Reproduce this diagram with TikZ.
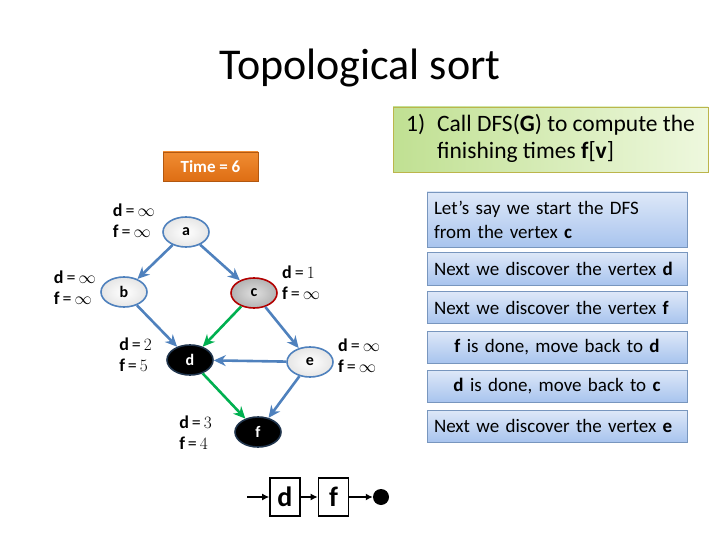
\documentclass[tikz,border=0pt]{standalone}
\usepackage{fontspec}
\setmainfont{Carlito}
\usetikzlibrary{shapes.geometric,arrows.meta,positioning}

\definecolor{edgeblue}{RGB}{79,129,189}
\definecolor{edgegreen}{RGB}{0,176,80}
\definecolor{boxtop}{RGB}{222,232,248}
\definecolor{boxbot}{RGB}{168,196,238}
\definecolor{boxline}{RGB}{120,150,190}
\definecolor{noteleft}{RGB}{192,224,146}
\definecolor{noteright}{RGB}{238,248,222}
\definecolor{timetop}{RGB}{240,140,50}
\definecolor{timebot}{RGB}{222,110,20}

\newcommand{\dval}[2]{\textbf{d}\,=\,$#1$\\\textbf{f}\,=\,$#2$}

\begin{document}
\begin{tikzpicture}[x=1pt,y=-1pt,
  vertex/.style={ellipse,line width=1.6pt,minimum width=46pt,minimum height=30pt,inner sep=0pt,
    font=\bfseries\fontsize{16}{16}\selectfont},
  white vertex/.style={vertex,draw=edgeblue,inner color=white,outer color=gray!20},
  gray vertex/.style={vertex,draw=red!70!black,inner color=gray!25,outer color=gray!60},
  black vertex/.style={vertex,draw=edgeblue!40!black,fill=black,text=white},
  dflabel/.style={align=left,font=\fontsize{18}{21}\selectfont,inner sep=0pt},
  blue edge/.style={draw=edgeblue,line width=2.6pt,-{Stealth[length=12pt,width=11pt]}},
  green edge/.style={draw=edgegreen,line width=2.6pt,-{Stealth[length=12pt,width=11pt]}},
  stepbox/.style={draw=boxline,line width=0.8pt,top color=boxtop,bottom color=boxbot,
    minimum width=260pt,text width=246pt,inner sep=7pt,font=\fontsize{19}{24}\selectfont},
  listbox/.style={draw,line width=1.6pt,minimum width=30pt,minimum height=38pt,inner sep=0pt,
    font=\bfseries\fontsize{28}{28}\selectfont},
  list edge/.style={line width=1.6pt,-{Latex[length=7pt,width=7pt]}}]
\useasboundingbox (0,0) rectangle (720,540);

% title
\node (title) at (360,68) {\fontsize{44}{44}\selectfont Topological sort};

% step 1
\node[draw=olive!60,line width=0.8pt,left color=noteleft,right color=noteright,
  minimum width=315pt,minimum height=65pt,inner sep=0pt,font=\fontsize{23.5}{27}\selectfont]
  (note) at (550.5,139.5)
  {\begin{tabular}{@{}l@{\hspace{12pt}}l@{}}
   1) & Call DFS(\textbf{G}) to compute the\\
      & finishing times \textbf{f}[\textbf{v}]
   \end{tabular}};

% time counter
\node[top color=timetop,bottom color=timebot,draw=timebot!80!black,line width=0.6pt,
  minimum width=95pt,minimum height=29pt,text=white,font=\bfseries\fontsize{17}{17}\selectfont]
  (time) at (210.5,166.5) {Time = 6};

% graph
\node[white vertex] (a) at (186,232) {a};
\node[white vertex] (b) at (124,292) {b};
\node[gray vertex]  (c) at (254,293) {c};
\node[black vertex] (d) at (190,360) {d};
\node[white vertex] (e) at (310,362) {e};
\node[black vertex] (f) at (258,432) {f};

\node[dflabel,anchor=east] (la) at (155,221) {\dval{\infty}{\infty}};
\node[dflabel,anchor=east] (lb) at (96,288)  {\dval{\infty}{\infty}};
\node[dflabel,anchor=west] (lc) at (282,283) {\dval{1}{\infty}};
\node[dflabel,anchor=east] (ld) at (152,355) {\dval{2}{5}};
\node[dflabel,anchor=west] (le) at (338,356) {\dval{\infty}{\infty}};
\node[dflabel,anchor=east] (lf) at (212,433) {\dval{3}{4}};

\draw[blue edge] (a) -- (b);
\draw[blue edge] (a) -- (c);
\draw[blue edge] (b) -- (d);
\draw[green edge] (c) -- (d);
\draw[blue edge] (c) -- (e);
\draw[blue edge] (e) -- (d);
\draw[blue edge] (e) -- (f);
\draw[green edge] (d) -- (f);

% steps
\node[stepbox,minimum height=55pt] (s1) at (557,219.5)
  {Let’s say we start the DFS\\from the vertex \textbf{c}};
\node[stepbox,minimum height=33pt] (s2) at (557,268.5) {Next we discover the vertex \textbf{d}};
\node[stepbox,minimum height=32pt] (s3) at (557,307.5) {Next we discover the vertex \textbf{f}};
\node[stepbox,minimum height=32pt,align=center] (s4) at (557,347) {\textbf{f} is done, move back to \textbf{d}};
\node[stepbox,minimum height=32pt,align=center] (s5) at (557,386) {\textbf{d} is done, move back to \textbf{c}};
\node[stepbox,minimum height=32pt] (s6) at (557,426) {Next we discover the vertex \textbf{e}};

% sorted list
\coordinate (head) at (247,497);
\node[listbox] (out d) at (285,497) {d};
\node[listbox] (out f) at (333.5,497) {f};
\node[circle,fill=black,minimum size=16pt,inner sep=0pt] (tail) at (381,497) {};
\draw[list edge] (head) -- (out d);
\draw[list edge] (out d) -- (out f);
\draw[list edge] (out f) -- (tail);
\end{tikzpicture}
\end{document}
